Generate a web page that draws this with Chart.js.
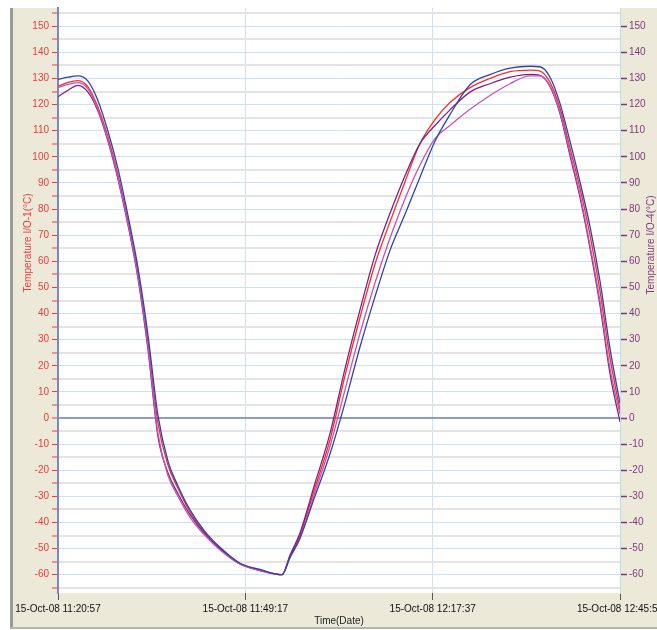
<!DOCTYPE html>
<html>
<head>
<meta charset="utf-8">
<script src="https://cdn.jsdelivr.net/npm/chart.js@4.4.1/dist/chart.umd.min.js"></script>
<style>
  html, body { margin: 0; padding: 0; background: #fff; }
  #wrap { width: 657px; height: 630px; }
</style>
</head>
<body>
<div id="wrap"><canvas id="chart" width="657" height="630"></canvas></div>
<script>
// Temperature log, four probes, 15-Oct-08 11:20:57 -> 12:45:57
// x values are seconds since 11:20:57

const times = [0, 91, 181, 272, 363, 454, 544, 635, 726, 817, 907, 998, 1089, 1198, 1334,
  1470, 1652, 1833, 2033, 2105, 2196, 2332, 2468, 2605, 2741, 2877, 3013, 3149, 3285, 3421,
  3557, 3739, 3920, 4102, 4283, 4374, 4465, 4556, 4646, 4737, 4828, 4919, 5009, 5100];

const io1 = [127, 128.5, 129.2, 126.8, 119, 107.5, 93, 75.5, 55.5, 29, -2, -18, -27, -36, -44,
  -50, -55.8, -58.2, -60, -53, -45, -26.7, -8.4, 16.3, 38.6, 59, 75.1, 90.5, 105.1, 114.3,
  120.8, 126.5, 130, 132.6, 133.2, 132.8, 128.5, 118.5, 103.5, 88, 70, 48.5, 23, 3];

const io2 = [129.6, 130.5, 131, 129, 121.5, 109.7, 95.5, 77.5, 57.5, 31.7, 1, -16.5, -26, -35.2, -43.5,
  -49.5, -55.6, -58, -60, -53.4, -46, -29.9, -13.8, 5.9, 27.3, 46.5, 64.2, 78, 92.2, 106,
  116.2, 127.6, 131.5, 134, 134.7, 134.5, 130.5, 120.4, 106, 90.4, 73.3, 52.3, 26.7, 5.6];

const io3 = [126.5, 127.8, 128.4, 126, 118, 106.5, 92, 74.5, 54, 27, -6, -22, -30, -38, -45,
  -50.5, -56, -58.5, -60, -53.5, -46, -28.4, -10.8, 10.9, 32.5, 51.8, 68.9, 84, 96.9, 107,
  112, 118.2, 123.5, 128, 131, 131, 127, 117, 101.5, 85.5, 66, 44.5, 19, 1.5];

const io4 = [123, 125.5, 127.4, 124.8, 117.5, 106, 91.5, 74, 53.5, 26, -7, -21, -29, -37, -44.5,
  -50, -55.8, -58.3, -60, -52.5, -44, -25, -6, 19, 41.5, 62.3, 78.4, 92.8, 105.1, 112,
  118, 124.8, 128, 130.5, 131.6, 131.2, 127, 116.5, 100.5, 84.5, 65, 43, 17, -1.5];

const xTicks = [0, 1700, 3400, 5100];
const xTickLabels = ['15-Oct-08 11:20:57', '15-Oct-08 11:49:17', '15-Oct-08 12:17:37', '15-Oct-08 12:45:57'];
const yMajorTicks = [-60, -50, -40, -30, -20, -10, 0, 10, 20, 30, 40, 50, 60, 70, 80, 90, 100, 110, 120, 130, 140, 150];
const yMinorTicks = [-65, -55, -45, -35, -25, -15, -5, 5, 15, 25, 35, 45, 55, 65, 75, 85, 95, 105, 115, 125, 135, 145, 155];

const FONT = 'Liberation Sans, Arial, sans-serif';
const RED = '#f03a3a';
const PURPLE = '#7e3a80';

function pts(vals) {
  return times.map((t, i) => ({ x: t, y: vals[i] }));
}

function line(label, vals, color) {
  return {
    label: label,
    data: pts(vals),
    borderColor: color,
    borderWidth: 1.3,
    pointRadius: 0,
    fill: false,
    cubicInterpolationMode: 'monotone'
  };
}

// beige panel behind the plot, and the axis titles
const panel = {
  id: 'panel',
  beforeDraw(chart) {
    const { ctx, chartArea: a } = chart;
    ctx.save();
    ctx.fillStyle = '#fff';
    ctx.fillRect(0, 0, 657, 630);
    ctx.fillStyle = '#ece9d8';
    ctx.fillRect(10, 8, 647, 620);
    ctx.fillStyle = '#9c9b94';
    ctx.fillRect(10, 8, 3, 620);
    ctx.fillStyle = '#b4b3ac';
    ctx.fillRect(10, 627, 647, 2);
    ctx.fillStyle = '#fff';
    ctx.fillRect(a.left, a.top, a.right - a.left, a.bottom - a.top);
    ctx.restore();
  },
  afterDraw(chart) {
    const ctx = chart.ctx;
    ctx.save();
    ctx.font = '10px ' + FONT;
    ctx.textAlign = 'center';
    ctx.textBaseline = 'middle';

    ctx.save();
    ctx.translate(28, 243);
    ctx.rotate(-Math.PI / 2);
    ctx.fillStyle = RED;
    ctx.fillText('Temperature I/O-1(°C)', 0, 0);
    ctx.restore();

    ctx.save();
    ctx.translate(651, 245);
    ctx.rotate(-Math.PI / 2);
    ctx.fillStyle = PURPLE;
    ctx.fillText('Temperature I/O-4(°C)', 0, 0);
    ctx.restore();

    ctx.fillStyle = '#222';
    ctx.fillText('Time(Date)', 339, 621);
    ctx.restore();
  }
};

new Chart(document.getElementById('chart'), {
  type: 'line',
  data: {
    datasets: [
      line('I/O-2', io2, '#2e45a8'),
      line('I/O-3', io3, '#c055b8'),
      line('I/O-4', io4, '#7a2482'),
      line('I/O-1', io1, '#ff2a2a')
    ]
  },
  options: {
    responsive: false,
    animation: false,
    layout: { padding: { left: 13, right: 0, top: 8, bottom: 0 } },
    plugins: {
      legend: { display: false },
      tooltip: { enabled: false }
    },
    scales: {
      x: {
        type: 'linear',
        min: 0,
        max: 5100,
        afterBuildTicks: s => { s.ticks = xTicks.map(v => ({ value: v })); },
        afterFit: s => { s.height = 37; s.paddingLeft = 0; s.paddingRight = 0; },
        ticks: {
          autoSkip: false,
          maxRotation: 0,
          padding: 3,
          color: '#111',
          font: { family: FONT, size: 10 },
          callback: v => xTickLabels[xTicks.indexOf(v)]
        },
        grid: { color: '#c9e3f5', lineWidth: 1, tickColor: '#555', tickLength: 7, tickWidth: 1 },
        border: { display: false }
      },
      y: {
        position: 'left',
        min: -67,
        max: 157,
        afterBuildTicks: s => {
          s.ticks = yMajorTicks.concat(yMinorTicks).sort((a, b) => a - b).map(v => ({ value: v }));
        },
        afterFit: s => { s.width = 45; s.paddingTop = 0; s.paddingBottom = 0; },
        ticks: {
          autoSkip: false,
          padding: 3,
          color: RED,
          font: { family: FONT, size: 10 },
          callback: v => (yMajorTicks.includes(v) ? String(v) : '')
        },
        grid: {
          color: c => c.tick.value === 0 ? '#8e9ccb' : (yMajorTicks.includes(c.tick.value) ? '#c9e3f5' : '#e4e4e4'),
          lineWidth: c => c.tick.value === 0 ? 2 : (yMajorTicks.includes(c.tick.value) ? 1 : 2),
          tickColor: RED,
          tickLength: 6,
          tickWidth: 1
        },
        border: { color: '#7b88be', width: 2 }
      },
      y2: {
        position: 'right',
        min: -67,
        max: 157,
        afterBuildTicks: s => { s.ticks = yMajorTicks.map(v => ({ value: v })); },
        afterFit: s => { s.width = 37; s.paddingTop = 0; s.paddingBottom = 0; },
        ticks: {
          autoSkip: false,
          padding: 2,
          color: PURPLE,
          font: { family: FONT, size: 10 }
        },
        grid: { drawOnChartArea: false, tickColor: PURPLE, tickLength: 7, tickWidth: 1.5 },
        border: { color: '#bcdcf0', width: 1 }
      }
    }
  },
  plugins: [panel]
});
</script>
</body>
</html>
